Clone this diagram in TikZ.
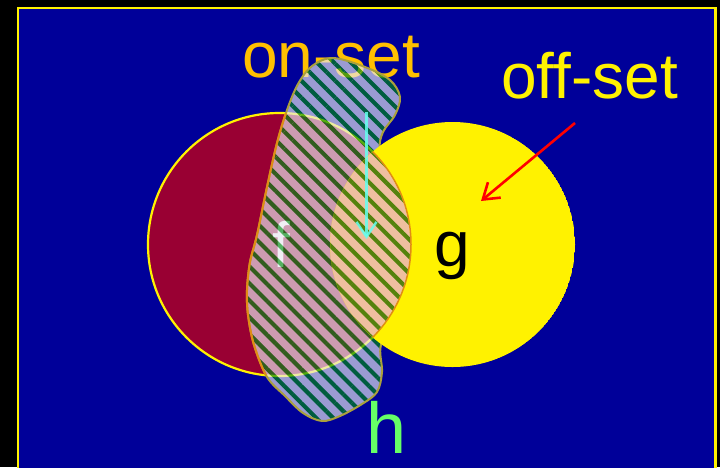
\documentclass[tikz,border=0pt]{standalone}
\usepackage{fontspec}
\setmainfont{Liberation Sans}
\usetikzlibrary{arrows.meta,patterns.meta}
\definecolor{bgblue}{RGB}{0,0,153}
\definecolor{fcrim}{RGB}{153,0,51}
\definecolor{lens}{RGB}{255,110,0}
\definecolor{onset}{RGB}{255,192,0}
\definecolor{hfill}{RGB}{232,232,240}
\definecolor{stripe}{RGB}{0,140,20}
\definecolor{holive}{RGB}{170,160,60}
\definecolor{horange}{RGB}{225,140,20}
\definecolor{cyanarr}{RGB}{100,255,240}
\definecolor{hgreen}{RGB}{102,255,102}
\tikzset{
  biglabel/.style={inner sep=0pt, anchor=base, font=\fontsize{64}{64}\selectfont},
  pointer/.style={line width=2.6pt, -{Straight Barb[length=15pt,width=20pt]}},
}
\newcommand\hpath{plot[smooth cycle, tension=0.55] coordinates {(333,58) (365,67) (390,80) (400,97) (395,115) (383,132) (380,150) (392,175) (416,210) (420,250) (410,295) (398,322) (381,345) (382,372) (377,392) (362,404) (340,416) (322,421) (303,413) (285,396) (267,377) (254,345) (248,315) (247,290) (250,262) (257,235) (267,187) (277,143) (287,110) (298,84) (312,66)}}
\begin{document}
\begin{tikzpicture}[x=1pt,y=-1pt]
\useasboundingbox (0,0) rectangle (720,467);
\fill[black] (0,0) rectangle (720,467);
\fill[bgblue] (18,8) rectangle (715.5,475);
\draw[yellow, line width=2.5pt] (18,475) -- (18,8) -- (715.5,8) -- (715.5,475);
% f circle
\coordinate (fc) at (279.5,244.5);
\coordinate (gc) at (452.5,244.5);
\fill[fcrim] (fc) circle[radius=131.5];
\draw[yellow, line width=2.2pt] (fc) circle[radius=131.5];
\begin{scope}
  \clip (fc) circle[radius=130.4];
  \fill[lens] (gc) circle[radius=122.5];
\end{scope}
% labels under h
\node[biglabel, text=white] (flab) at (281,267) {f};
\node[biglabel, text=onset] (onlab) at (331,77) {on-set};
\coordinate (ca) at (366.5,112);
\coordinate (cb) at (366.5,239);
% h blob
\begin{scope}[transparency group, opacity=0.67]
  \fill[hfill] \hpath;
  \fill[pattern={Lines[angle=-45,distance=12pt,line width=4.1pt]}, pattern color=stripe] \hpath;
\end{scope}
\draw[pointer, cyanarr, line width=2.4pt, opacity=0.85] (ca) -- (cb);
\draw[holive, line width=2pt] \hpath;
\begin{scope}
  \clip (fc) circle[radius=131.5];
  \draw[horange, line width=2pt] \hpath;
\end{scope}
% g circle minus f
\begin{scope}
  \clip (gc) circle[radius=122.5];
  \fill[yellow, even odd rule] (gc) circle[radius=122.5] (fc) circle[radius=131.5];
  \draw[horange, line width=1.5pt] (fc) circle[radius=131.5];
\end{scope}
\node[biglabel, text=black] (glab) at (452,266) {g};
\node[biglabel, text=yellow] (offlab) at (589.5,98) {off-set};
\coordinate (ra) at (575,123);
\coordinate (rb) at (481,201);
\draw[pointer, red] (ra) -- (rb);
\node[biglabel, text=hgreen, font=\fontsize{72}{72}\selectfont] (hlab) at (387,453) {h};
\end{tikzpicture}
\end{document}
